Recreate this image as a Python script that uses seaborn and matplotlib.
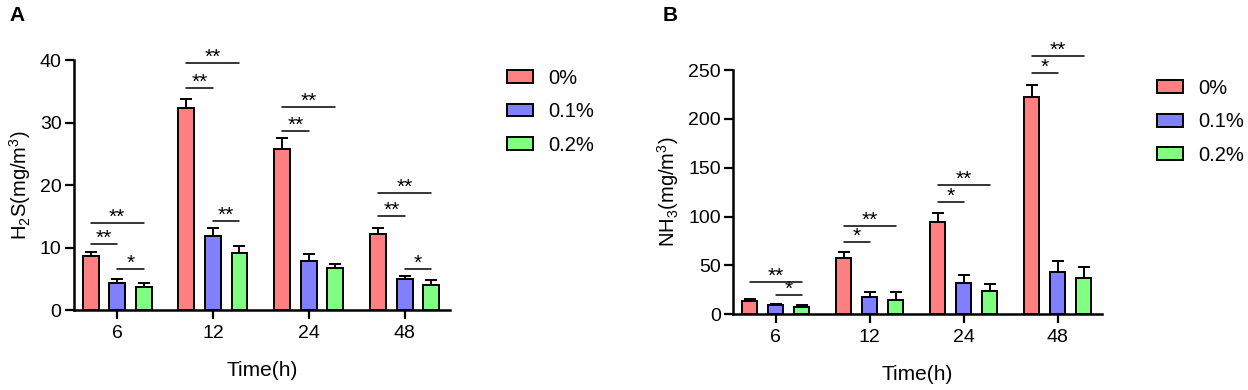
import numpy as np
import pandas as pd
import matplotlib
matplotlib.use("Agg")
import matplotlib.pyplot as plt
from matplotlib.patches import Patch
import seaborn as sns

# ==========================================
# DATA
# ==========================================
times = ["6", "12", "24", "48"]
groups = ["0%", "0.1%", "0.2%"]
colors = ["#FF8080", "#8080FF", "#80FF80"]

# H2S (mg/m3), mean and SEM per group
h2s_0 = [8.6, 32.3, 25.8, 12.1]
h2s_01 = [4.4, 11.8, 7.9, 4.9]
h2s_02 = [3.7, 9.1, 6.8, 4.0]
h2s_0_err = [0.7, 1.5, 1.7, 1.1]
h2s_01_err = [0.5, 1.3, 1.1, 0.5]
h2s_02_err = [0.7, 1.1, 0.6, 0.8]

# NH3 (mg/m3)
nh3_0 = [13.6, 57.3, 94.8, 222.0]
nh3_01 = [9.5, 17.7, 32.0, 43.6]
nh3_02 = [7.8, 14.9, 23.8, 37.5]
nh3_0_err = [2.1, 6.2, 8.6, 12.4]
nh3_01_err = [1.4, 5.1, 8.2, 11.3]
nh3_02_err = [2.0, 7.6, 7.5, 10.6]

# significance brackets: (time index, group a, group b, height, label)
h2s_sig = [
    (0, 0, 1, 10.6, "**"), (0, 0, 2, 14.0, "**"), (0, 1, 2, 6.6, "*"),
    (1, 0, 1, 35.5, "**"), (1, 0, 2, 39.5, "**"), (1, 1, 2, 14.3, "**"),
    (2, 0, 1, 28.7, "**"), (2, 0, 2, 32.5, "**"),
    (3, 0, 1, 15.1, "**"), (3, 0, 2, 18.8, "**"), (3, 1, 2, 6.6, "*"),
]
nh3_sig = [
    (0, 0, 2, 33.4, "**"), (0, 1, 2, 20.1, "*"),
    (1, 0, 1, 73.7, "*"), (1, 0, 2, 90.7, "**"),
    (2, 0, 1, 114.6, "*"), (2, 0, 2, 132.0, "**"),
    (3, 0, 1, 247.3, "*"), (3, 0, 2, 264.8, "**"),
]

sns.set_theme(style="ticks")
plt.rcParams["font.family"] = ["Liberation Sans", "DejaVu Sans"]
plt.rcParams["axes.linewidth"] = 1.8
plt.rcParams["text.color"] = "black"
plt.rcParams["axes.labelcolor"] = "black"
plt.rcParams["xtick.color"] = "black"
plt.rcParams["ytick.color"] = "black"
plt.rcParams["axes.edgecolor"] = "black"


def draw_panel(ax, means, errs, sigs, ylim, yticks, ylabel):
    df = pd.DataFrame({
        "Time": np.tile(times, len(groups)),
        "Group": np.repeat(groups, len(times)),
        "Value": np.concatenate(means),
    })
    sns.barplot(
        data=df, x="Time", y="Value", hue="Group", order=times, hue_order=groups,
        palette=colors, errorbar=None, width=0.83, gap=0.4,
        edgecolor="black", linewidth=1.4, saturation=1, legend=False, ax=ax,
    )

    # bar centres / tops from the drawn patches
    centers = []
    for k, cont in enumerate(list(ax.containers)[:len(groups)]):
        xs = [p.get_x() + p.get_width() / 2 for p in cont.patches]
        hs = [p.get_height() for p in cont.patches]
        centers.append(xs)
        ax.errorbar(xs, hs, yerr=[np.zeros(len(xs)), errs[k]], fmt="none",
                    ecolor="black", elinewidth=1.4, capsize=4, capthick=1.4, zorder=1)

    for t, a, b, h, lab in sigs:
        x0, x1 = centers[a][t], centers[b][t]
        ax.plot([x0, x1], [h, h], color="black", lw=1.1, clip_on=False)
        ax.annotate(lab, xy=((x0 + x1) / 2, h), xytext=(0, 4), textcoords="offset points",
                    ha="center", va="center", fontsize=15, annotation_clip=False)

    ax.set_xlim(-0.45, 3.47)
    ax.set_ylim(*ylim)
    ax.set_yticks(yticks)
    sns.despine(ax=ax)
    ax.tick_params(axis="both", direction="out", length=6.5, width=1.6, labelsize=14, pad=2.5)
    ax.tick_params(axis="x", pad=4)
    ax.set_xlabel("Time(h)", fontsize=15, labelpad=14)
    ax.set_ylabel(ylabel, fontsize=14.5, labelpad=5)

    handles = [Patch(facecolor=c, edgecolor="black", linewidth=1.4) for c in colors]
    return handles


fig = plt.figure(figsize=(12.48, 3.9), dpi=100)
axA = fig.add_axes([0.0593, 0.205, 0.301, 0.641])
axB = fig.add_axes([0.5876, 0.194, 0.2952, 0.6264])

hA = draw_panel(axA, [h2s_0, h2s_01, h2s_02], [h2s_0_err, h2s_01_err, h2s_02_err],
                h2s_sig, (0, 40), [0, 10, 20, 30, 40],
                r"H$_\mathregular{2}$S(mg/m$^\mathregular{3}$)")
hB = draw_panel(axB, [nh3_0, nh3_01, nh3_02], [nh3_0_err, nh3_01_err, nh3_02_err],
                nh3_sig, (0, 250), [0, 50, 100, 150, 200, 250],
                r"NH$_\mathregular{3}$(mg/m$^\mathregular{3}$)")

for ax, h, anchor in [(axA, hA, (0.4063, 0.824)), (axB, hB, (0.927, 0.798))]:
    ax.legend(h, groups, loc="upper left", bbox_to_anchor=anchor,
              bbox_transform=fig.transFigure, frameon=False, fontsize=14.5,
              handlelength=1.3, handleheight=0.6, handletextpad=0.75,
              labelspacing=0.72, borderpad=0, borderaxespad=0)

fig.text(0.008, 0.985, "A", fontsize=15, fontweight="bold", va="top")
fig.text(0.531, 0.985, "B", fontsize=15, fontweight="bold", va="top")

fig.savefig("out.png", dpi=100)
